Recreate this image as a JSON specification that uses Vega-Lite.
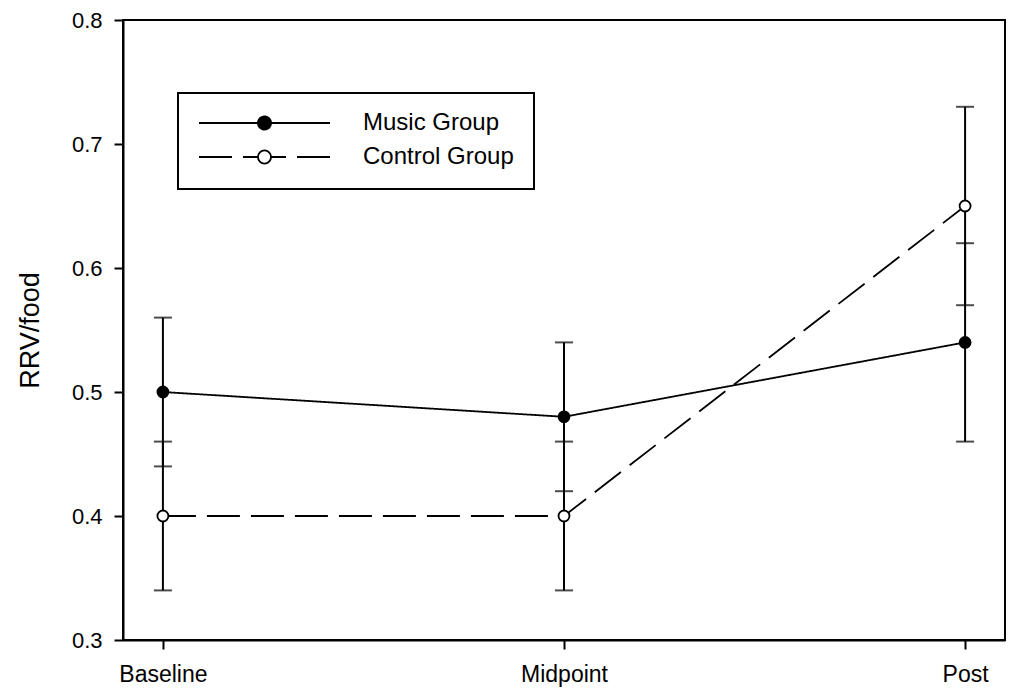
{
  "$schema": "https://vega.github.io/schema/vega-lite/v6.json",
  "width": 882,
  "height": 620,
  "autosize": {"type": "none"},
  "padding": {"left": 123, "top": 20, "right": 6, "bottom": 48},
  "background": "white",
  "config": {
    "font": "Liberation Sans",
    "view": {"stroke": "black", "strokeWidth": 2},
    "axis": {
      "grid": false,
      "domainColor": "black",
      "domainWidth": 2,
      "tickColor": "black",
      "tickWidth": 2,
      "tickSize": 9,
      "labelColor": "black",
      "labelFont": "Liberation Sans",
      "titleColor": "black",
      "titleFont": "Liberation Sans",
      "titleFontWeight": "normal"
    },
    "legend": {"strokeWidth": 2}
  },
  "data": {
    "values": [
      {"time": "Baseline", "group": "Music Group", "mean": 0.5, "lower": 0.44, "upper": 0.56},
      {"time": "Midpoint", "group": "Music Group", "mean": 0.48, "lower": 0.42, "upper": 0.54},
      {"time": "Post", "group": "Music Group", "mean": 0.54, "lower": 0.46, "upper": 0.62},
      {"time": "Baseline", "group": "Control Group", "mean": 0.4, "lower": 0.34, "upper": 0.46},
      {"time": "Midpoint", "group": "Control Group", "mean": 0.4, "lower": 0.34, "upper": 0.46},
      {"time": "Post", "group": "Control Group", "mean": 0.65, "lower": 0.57, "upper": 0.73}
    ]
  },
  "encoding": {
    "x": {
      "field": "time",
      "type": "ordinal",
      "sort": ["Baseline", "Midpoint", "Post"],
      "scale": {"type": "point", "padding": 0.0995},
      "axis": {"title": null, "labelAngle": 0, "labelFontSize": 23, "labelPadding": 14}
    }
  },
  "layer": [
    {
      "mark": {"type": "rule", "color": "black", "strokeWidth": 2},
      "encoding": {
        "y": {
          "field": "lower",
          "type": "quantitative",
          "scale": {"domain": [0.3, 0.8], "zero": false, "nice": false},
          "axis": {
            "title": "RRV/food",
            "values": [0.3, 0.4, 0.5, 0.6, 0.7, 0.8],
            "format": ".1f",
            "labelFontSize": 22,
            "labelPadding": 12,
            "titleFontSize": 27,
            "titlePadding": 27
          }
        },
        "y2": {"field": "upper"}
      }
    },
    {
      "mark": {"type": "tick", "color": "black", "size": 18, "thickness": 2},
      "encoding": {"y": {"field": "lower", "type": "quantitative"}}
    },
    {
      "mark": {"type": "tick", "color": "black", "size": 18, "thickness": 2},
      "encoding": {"y": {"field": "upper", "type": "quantitative"}}
    },
    {
      "mark": {"type": "line", "color": "black", "strokeWidth": 1.8},
      "encoding": {
        "y": {"field": "mean", "type": "quantitative"},
        "strokeDash": {
          "field": "group",
          "type": "nominal",
          "scale": {"domain": ["Music Group", "Control Group"], "range": [[1, 0], [33, 11]]},
          "legend": {
            "title": null,
            "orient": "none",
            "legendX": 55,
            "legendY": 73,
            "symbolType": "M-1,0H-0.1M-0.1,0A0.1,0.1,0,0,1,0.1,0M0.1,0A0.1,0.1,0,0,1,-0.1,0M1,0H0.1",
            "symbolSize": 17161,
            "symbolStrokeColor": "black",
            "symbolStrokeWidth": 1.8,
            "labelFontSize": 24,
            "labelOffset": 32,
            "labelColor": "black",
            "padding": 20,
            "clipHeight": 20,
            "rowPadding": 10,
            "strokeColor": "black",
            "fillColor": "white"
          }
        }
      }
    },
    {
      "mark": {"type": "point", "filled": true, "stroke": "black", "strokeWidth": 1.8, "size": 120, "opacity": 1},
      "encoding": {
        "y": {"field": "mean", "type": "quantitative"},
        "fill": {
          "field": "group",
          "type": "nominal",
          "scale": {"domain": ["Music Group", "Control Group"], "range": ["black", "white"]},
          "legend": {
            "title": null,
            "orient": "none",
            "legendX": 55,
            "legendY": 73,
            "symbolType": "M-1,0H-0.1M-0.1,0A0.1,0.1,0,0,1,0.1,0M0.1,0A0.1,0.1,0,0,1,-0.1,0M1,0H0.1",
            "symbolSize": 17161,
            "symbolStrokeColor": "black",
            "symbolStrokeWidth": 1.8,
            "labelFontSize": 24,
            "labelOffset": 32,
            "labelColor": "black",
            "padding": 20,
            "clipHeight": 20,
            "rowPadding": 10,
            "strokeColor": "black",
            "fillColor": "white"
          }
        }
      }
    }
  ]
}
